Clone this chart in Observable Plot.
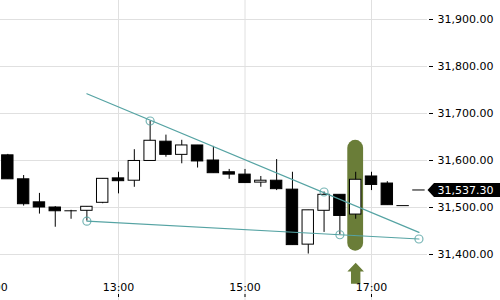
<!DOCTYPE html>
<html><head><meta charset="utf-8">
<script src="https://cdn.jsdelivr.net/npm/d3@7"></script>
<script src="https://cdn.jsdelivr.net/npm/@observablehq/plot@0.6"></script>
<style>html,body{margin:0;padding:0;background:#fff;overflow:hidden;}</style>
</head><body><div id="chart"></div>
<script>
// ---- data ----
const times  = ["11:15","11:30","11:45","12:00","12:15","12:30","12:45","13:00","13:15","13:30","13:45","14:00","14:15","14:30","14:45","15:00","15:15","15:30","15:45","16:00","16:15","16:30","16:45","17:00","17:15","17:30","17:45"];
const opens  = [31611,31560,31511,31500,31493,31493,31510,31562,31557,31599,31640,31612,31632,31600,31575,31570,31553,31557,31538,31421,31493,31527,31485,31566,31551,31504,31537.3];
const highs  = [31613,31568,31530,31502,31494,31502,31561,31575,31623,31684,31654,31643,31632,31630,31581,31581,31566,31602,31575,31494,31533,31527,31575,31575,31555,31504,31537.3];
const lows   = [31560,31503,31486,31458,31475,31471,31508,31529,31543,31599,31607,31593,31584,31573,31560,31552,31543,31536,31420,31401,31447,31442,31475,31536,31505,31504,31537.3];
const closes = [31560,31507,31500,31492,31493,31501.5,31561,31556,31599,31642,31612,31632,31598,31573,31570,31552,31557,31539,31420,31494,31527,31482,31559,31548,31505,31504,31537.3];
const candleMinutes = 15;

const priceTicks = [31400,31500,31600,31700,31800,31900];
const timeTicks  = ["11:00","13:00","15:00","17:00"];
const lastPrice  = 31537.30;

const upperTrendTimes  = ["12:30","17:45"];
const upperTrendPrices = [31742,31447];
const upperAnchorTimes  = ["13:30","16:15"];
const upperAnchorPrices = [31684,31533];
const lowerTrendTimes  = ["12:30","16:30","17:45"];
const lowerTrendPrices = [31471,31442,31433];

const highlightTime  = "16:45";
const highlightRange = [31407,31643];

// ---- helpers ----
const toMin = s => { const [h,m] = s.split(":").map(Number); return h*60+m; };
const fmt = d3.format(",.2f");
const candles = times.map((t,i) => ({t: toMin(t), o: opens[i], h: highs[i], l: lows[i], c: closes[i]}));
const bodies = candles.filter(d => Math.abs(d.o - d.c) >= 1);
const dojis  = candles.filter(d => Math.abs(d.o - d.c) < 1);
const upper = upperTrendTimes.map((t,i) => ({t: toMin(t), p: upperTrendPrices[i]}));
const upperPts = upperAnchorTimes.map((t,i) => ({t: toMin(t), p: upperAnchorPrices[i]}));
const lower = lowerTrendTimes.map((t,i) => ({t: toMin(t), p: lowerTrendPrices[i]}));
const half = candleMinutes/2;
const teal = "#55a3a3";
const olive = "#6a7d38";

const priceTag = {draw(ctx){ ctx.moveTo(0,0); ctx.lineTo(6.5,-7); ctx.lineTo(80,-7); ctx.lineTo(80,7); ctx.lineTo(6.5,7); ctx.closePath(); }};
const upArrow = {draw(ctx){ ctx.moveTo(0,-31.7); ctx.lineTo(8.3,-23); ctx.lineTo(4.7,-23); ctx.lineTo(4.7,-10.7); ctx.lineTo(-4.7,-10.7); ctx.lineTo(-4.7,-23); ctx.lineTo(-8.3,-23); ctx.closePath(); }};

const chart = Plot.plot({
  width: 500, height: 300,
  marginLeft: 0, marginRight: 73, marginTop: 0, marginBottom: 6,
  style: {fontFamily: "DejaVu Sans", fontSize: "11px", color: "black", background: "white"},
  x: {type: "linear", domain: [668.06, 1073.12], axis: null},
  y: {type: "linear", domain: [31314.9, 31940.43], axis: null},
  marks: [
    Plot.gridY(priceTicks, {stroke: "#e0e0e0", strokeOpacity: 1}),
    Plot.gridX(timeTicks.map(toMin), {stroke: "#e0e0e0", strokeOpacity: 1, insetBottom: -6}),
    Plot.rect([highlightTime], {x1: d => toMin(d) - half, x2: d => toMin(d) + half, y1: () => highlightRange[0], y2: () => highlightRange[1], rx: 8, fill: olive}),
    Plot.ruleX(candles, {x: "t", y1: "l", y2: "h", stroke: "black", strokeWidth: 1}),
    Plot.rect(bodies, {x1: d => d.t - half, x2: d => d.t + half, y1: "o", y2: "c", insetLeft: 2.2, insetRight: 2.2,
      fill: d => d.c >= d.o ? "white" : "black", stroke: "black", strokeWidth: 1}),
    Plot.ruleY(dojis, {y: "o", x1: d => d.t - half, x2: d => d.t + half, insetLeft: 1.7, insetRight: 1.7, stroke: "black", strokeWidth: 1}),
    Plot.line(upper, {x: "t", y: "p", stroke: teal, strokeWidth: 1.2}),
    Plot.line(lower, {x: "t", y: "p", stroke: teal, strokeWidth: 1.2}),
    Plot.dot(upperPts, {x: "t", y: "p", r: 4, stroke: teal, fill: "none", strokeWidth: 1.2, strokeOpacity: 0.8}),
    Plot.dot([lower[0], lower[1], lower[2]], {x: "t", y: "p", r: 4, stroke: teal, fill: "none", strokeWidth: 1.2, strokeOpacity: 0.8}),
    Plot.dot([highlightTime], {x: d => toMin(d), frameAnchor: "bottom", symbol: upArrow, fill: olive, stroke: "none"}),
    Plot.axisY(priceTicks, {anchor: "right", tickSize: 4, tickPadding: 5, dx: 1, tickFormat: fmt, label: null, fontSize: 11}),
    Plot.text(timeTicks, {x: d => toMin(d), text: d => d, frameAnchor: "bottom", lineAnchor: "middle", dy: -7, fontSize: 11, fill: "black"}),
    Plot.axisX(timeTicks.map(toMin), {anchor: "bottom", tickSize: 3, tickFormat: () => "", label: null}),
    Plot.dot([lastPrice], {y: d => d, frameAnchor: "right", symbol: priceTag, fill: "black", stroke: "none"}),
    Plot.text([lastPrice], {y: d => d, frameAnchor: "right", text: d => fmt(d), dx: 10, textAnchor: "start", fill: "white", fontSize: 11})
  ]
});
document.getElementById("chart").appendChild(chart);
</script>
</body></html>
